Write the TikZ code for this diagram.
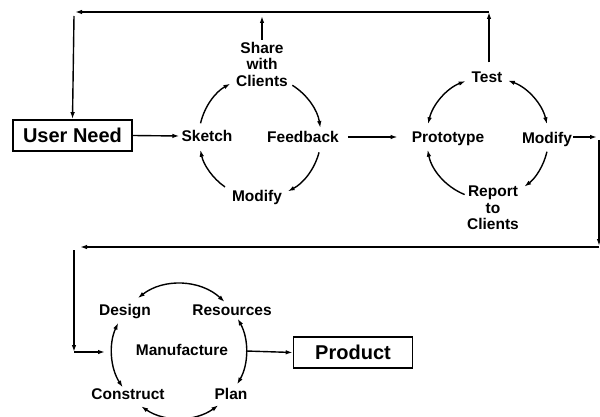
\documentclass[tikz,border=0pt]{standalone}
\usepackage{fontspec}
\setmainfont{Liberation Sans}
\usetikzlibrary{arrows.meta}
\begin{document}
\begin{tikzpicture}[x=1pt,y=1pt,
  lbl/.style={font=\bfseries\fontsize{15.5}{16.5}\selectfont, inner sep=0pt, align=center},
  box/.style={draw, line width=1.6pt, font=\bfseries\fontsize{20}{22}\selectfont, minimum width=119pt, minimum height=31pt, inner sep=0pt},
  conn/.style={line width=1.4pt, -{Latex[length=7pt,width=4.5pt]}},
  both/.style={line width=1.4pt, {Latex[length=7pt,width=4.5pt]}-{Latex[length=7pt,width=4.5pt]}}
]
\useasboundingbox (0,0) rectangle (600,-417);
% nodes
\node[box] (need) at (72.5,-135.5) {User Need};
\node[lbl] (sketch) at (207,-136) {Sketch};
\node[lbl] (share) at (262,-64) {Share\\with\\Clients};
\node[lbl] (feed) at (303,-137) {Feedback};
\node[lbl] (mod1) at (257,-197) {Modify};
\coordinate (c1) at (260,-137);
\node[lbl] (proto) at (448,-139) {Prototype};
\node[lbl] (test) at (487,-77) {Test};
\node[lbl] (mod2) at (547,-139) {Modify};
\node[lbl] (report) at (493,-208) {Report\\to\\Clients};
\coordinate (c2) at (487.5,-138);
\node[lbl] (design) at (125,-312) {Design};
\node[lbl] (res) at (232,-310) {Resources};
\node[lbl] (manu) at (182,-350) {Manufacture};
\node[lbl] (cons) at (128,-394) {Construct};
\node[lbl] (plan) at (231,-394) {Plan};
\coordinate (c3) at (179,-351);
\node[box] (prod) at (353,-352.5) {Product};
% routing points
\coordinate (tr) at (489,-12);
\coordinate (tl) at (74,-12);
\coordinate (sh) at (262,-16);
\coordinate (rt) at (599,-137);
\coordinate (rb) at (599,-247);
\coordinate (bl) at (74,-247);
\coordinate (ml) at (74,-352);
\coordinate (mi) at (105,-352);
% straight connectors
\draw[conn] (need.east) -- ([xshift=-2pt]sketch.west);
\draw[conn] ([xshift=9pt]feed.east) -- ([xshift=-14pt,yshift=2pt]proto.west);
\draw[conn] ([yshift=2pt]share.north) -- (sh);
\draw[conn] ([yshift=9pt]test.north -| tr) -- (tr);
\draw[conn] (tr) -- ([xshift=1pt]tl);
\draw[conn] ([yshift=-4pt]tl) -- (need.north);
\draw[conn] ([xshift=1pt,yshift=2pt]mod2.east) -- ([xshift=-2pt]rt);
\draw[conn] ([yshift=-3pt]rt) -- ([yshift=1pt]rb);
\draw[conn] (rb) -- ([xshift=6pt]bl);
\draw[conn] ([yshift=-3pt]bl) -- (ml);
\draw[conn] (ml) -- (mi);
\draw[conn] ([shift={(0:67)}]c3) -- (prod.west);
% sketch cycle
\draw[conn] ([shift={(167:61)}]c1) arc[start angle=167,end angle=119,radius=61];
\draw[conn] ([shift={(58:61)}]c1) arc[start angle=58,end angle=8.5,radius=61];
\draw[conn] ([shift={(-14.5:61)}]c1) arc[start angle=-14.5,end angle=-63,radius=61];
\draw[conn] ([shift={(235:61)}]c1) arc[start angle=235,end angle=192,radius=61];
% test cycle
\draw[both] ([shift={(167:61)}]c2) arc[start angle=167,end angle=111,radius=61];
\draw[both] ([shift={(70.5:61)}]c2) arc[start angle=70.5,end angle=13,radius=61];
\draw[conn] ([shift={(-13:61)}]c2) arc[start angle=-13,end angle=-53,radius=61];
\draw[conn] ([shift={(248:61)}]c2) arc[start angle=248,end angle=191,radius=61];
% manufacture cycle
\draw[both] ([shift={(128:67)}]c3) arc[start angle=128,end angle=47,radius=67];
\draw[both] ([shift={(155:67)}]c3) arc[start angle=155,end angle=213,radius=67];
\draw[both] ([shift={(29:67)}]c3) arc[start angle=29,end angle=-30,radius=67];
\draw[both] ([shift={(235.6:67)}]c3) arc[start angle=235.6,end angle=306,radius=67];
\end{tikzpicture}
\end{document}
